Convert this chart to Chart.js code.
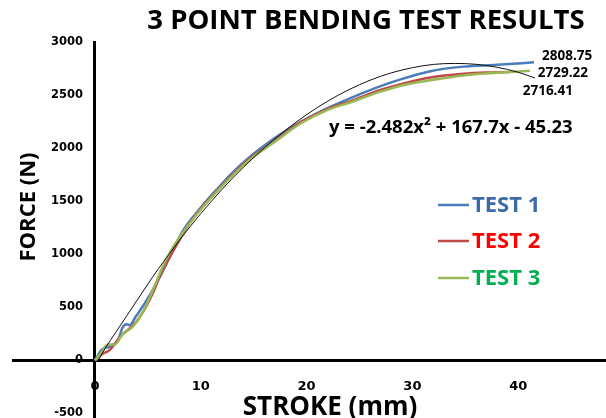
<!DOCTYPE html>
<html>
<head>
<meta charset="utf-8">
<script src="https://cdn.jsdelivr.net/npm/chart.js@4.4.1/dist/chart.umd.min.js"></script>
<style>
html, body { margin: 0; padding: 0; background: #fff; overflow: hidden; }
#wrap { width: 606px; height: 418px; position: relative; }
</style>
</head>
<body>
<div id="wrap"><canvas id="bending"></canvas></div>
<script>
// stroke (mm) and force (N)
var test1Stroke = [0, 0.66, 1.4, 2.2, 2.6, 3.0, 3.3, 3.8, 4.1, 5.2, 6.1, 7.0, 8.3, 10, 11.5, 13, 14.65, 16.2, 17.8, 19.4, 21, 22.5, 25.7, 28.8, 31.7, 34.8, 38, 41.5];
var test1Force  = [0, 103, 130, 196, 310, 340, 332, 405, 447, 620, 780, 960, 1221, 1440, 1610, 1770, 1920, 2040, 2150, 2245, 2330, 2400, 2535, 2645, 2725, 2768, 2785, 2808.75];

var test2Stroke = [0, 0.7, 1.4, 2.2, 2.6, 3.5, 4.25, 5.5, 6.1, 7.0, 9.0, 11.8, 14.5, 17, 19.4, 22, 24.1, 26.9, 29, 31.7, 34.8, 37, 39.2];
var test2Force  = [0, 60, 100, 200, 245, 320, 410, 640, 790, 960, 1300, 1625, 1890, 2070, 2240, 2370, 2440, 2545, 2605, 2665, 2700, 2712, 2716.41];

var test3Stroke = [0, 0.5, 1.2, 1.9, 2.6, 3.6, 4.5, 5.5, 6.4, 7.4, 9.0, 11.8, 14.5, 17, 19.4, 22, 24.1, 26.9, 29, 31.7, 34.8, 38, 41.1];
var test3Force  = [0, 60, 150, 150, 245, 320, 450, 668, 884, 1072, 1298, 1620, 1880, 2060, 2230, 2360, 2430, 2530, 2590, 2640, 2685, 2710, 2729.22];

// polynomial trendline as drawn
var trendStroke = [0.3, 1, 2, 3, 4, 5, 6, 7, 8, 10, 12, 14, 16, 18, 20, 22, 24, 26, 28, 30, 32, 34, 36, 38, 40, 41.6];
var trendForce  = [0, 120, 270, 420, 570, 720, 865, 1000, 1135, 1383, 1611, 1817, 2002, 2168, 2315, 2443, 2551, 2640, 2709, 2758, 2789, 2798, 2790, 2762, 2715, 2660];
var trendEquation = 'y = -2.482x\u00B2 + 167.7x - 45.23';

var seriesNames = ['TEST 1', 'TEST 2', 'TEST 3'];
var endLabels = ['2808.75', '2716.41', '2729.22'];
var xTicks = [0, 10, 20, 30, 40];
var yTicks = [-500, 0, 500, 1000, 1500, 2000, 2500, 3000];

var lineColors = ['#4a7ebb', '#be4b48', '#98b954'];
var textColors = ['#3a6ca8', '#ff0000', '#00b050'];

function pts(xs, ys) {
    return xs.map(function (x, i) { return { x: x, y: ys[i] }; });
}

var textLayer = {
    id: 'textLayer',
    afterDraw: function (chart) {
        var ctx = chart.ctx;
        var sx = chart.scales.x, sy = chart.scales.y;
        ctx.save();
        ctx.fillStyle = '#000';
        ctx.textBaseline = 'middle';
        ctx.textAlign = 'center';
        ctx.font = 'bold 27.5px "Open Sans"';
        ctx.fillText('3 POINT BENDING TEST RESULTS', 366, 21);

        ctx.font = 'bold 26px "Open Sans"';
        ctx.fillText('STROKE (mm)', 330, 408);
        ctx.font = 'bold 22px "Open Sans"';
        ctx.save();
        ctx.translate(29, 207);
        ctx.rotate(-Math.PI / 2);
        ctx.fillText('FORCE (N)', 0, 0);
        ctx.restore();

        ctx.textAlign = 'left';
        ctx.font = 'bold 18.5px "Open Sans"';
        ctx.fillText(trendEquation, 329, 128);

        // values at the end of each test curve
        var ends = [[test1Stroke, test1Force, 8, -6], [test2Stroke, test2Force, 13, 19], [test3Stroke, test3Force, 8, 2]];
        ctx.font = 'bold 13.5px "Open Sans"';
        ends.forEach(function (e, i) {
            var n = e[0].length - 1;
            var px = sx.getPixelForValue(e[0][n]) + e[2];
            var py = sy.getPixelForValue(e[1][n]) + e[3];
            ctx.fillText(endLabels[i], px, py);
        });

        // legend
        ctx.font = 'bold 22px "Open Sans"';
        var ly = [205, 241, 278];
        seriesNames.forEach(function (name, i) {
            ctx.strokeStyle = lineColors[i];
            ctx.lineWidth = 2.5;
            ctx.beginPath();
            ctx.moveTo(438, ly[i]);
            ctx.lineTo(469, ly[i]);
            ctx.stroke();
            ctx.fillStyle = textColors[i];
            ctx.fillText(name, 472, ly[i] + 1);
        });
        ctx.restore();
    }
};

var config = {
    type: 'line',
    data: {
        datasets: [{
            label: 'trend',
            data: pts(trendStroke, trendForce),
            borderColor: '#111',
            borderWidth: 1,
            order: 0
        }, {
            label: seriesNames[0],
            data: pts(test1Stroke, test1Force),
            borderColor: lineColors[0],
            borderWidth: 2.5,
            order: 3
        }, {
            label: seriesNames[1],
            data: pts(test2Stroke, test2Force),
            borderColor: lineColors[1],
            borderWidth: 2.5,
            order: 2
        }, {
            label: seriesNames[2],
            data: pts(test3Stroke, test3Force),
            borderColor: lineColors[2],
            borderWidth: 2.5,
            order: 1
        }]
    },
    options: {
        responsive: true,
        maintainAspectRatio: false,
        animation: false,
        layout: { padding: { top: 42, left: 13, right: 0, bottom: 0 } },
        elements: {
            point: { radius: 0 },
            line: { cubicInterpolationMode: 'monotone', fill: false }
        },
        plugins: {
            legend: { display: false },
            title: { display: false },
            tooltip: { enabled: false }
        },
        scales: {
            x: {
                type: 'linear',
                position: { y: 0 },
                min: -7.75,
                max: 48.3,
                afterBuildTicks: function (s) { s.ticks = xTicks.map(function (v) { return { value: v }; }); },
                grid: { display: false, drawTicks: true, tickLength: 18 },
                border: { display: true, color: '#000', width: 3 },
                ticks: {
                    autoSkip: false, maxRotation: 0, padding: 0, color: '#000',
                    callback: function (v) { return String(v); },
                    font: { family: 'DejaVu Sans', weight: 'bold', size: 13 }
                }
            },
            y: {
                type: 'linear',
                position: { x: 0 },
                min: -537,
                max: 3000,
                afterBuildTicks: function (s) { s.ticks = yTicks.map(function (v) { return { value: v }; }); },
                grid: { display: false, drawTicks: false },
                border: { display: true, color: '#000', width: 3 },
                ticks: {
                    autoSkip: false, padding: 0, color: '#000',
                    // trailing gap keeps the labels clear of the axis line
                    callback: function (v) { return String(v) + '   '; },
                    font: { family: 'DejaVu Sans', weight: 'bold', size: 11.5, lineHeight: 0.1 }
                }
            }
        }
    },
    plugins: [textLayer]
};

window.onload = function () {
    var ctx = document.getElementById('bending').getContext('2d');
    window.bendChart = new Chart(ctx, config);
};
</script>
</body>
</html>
